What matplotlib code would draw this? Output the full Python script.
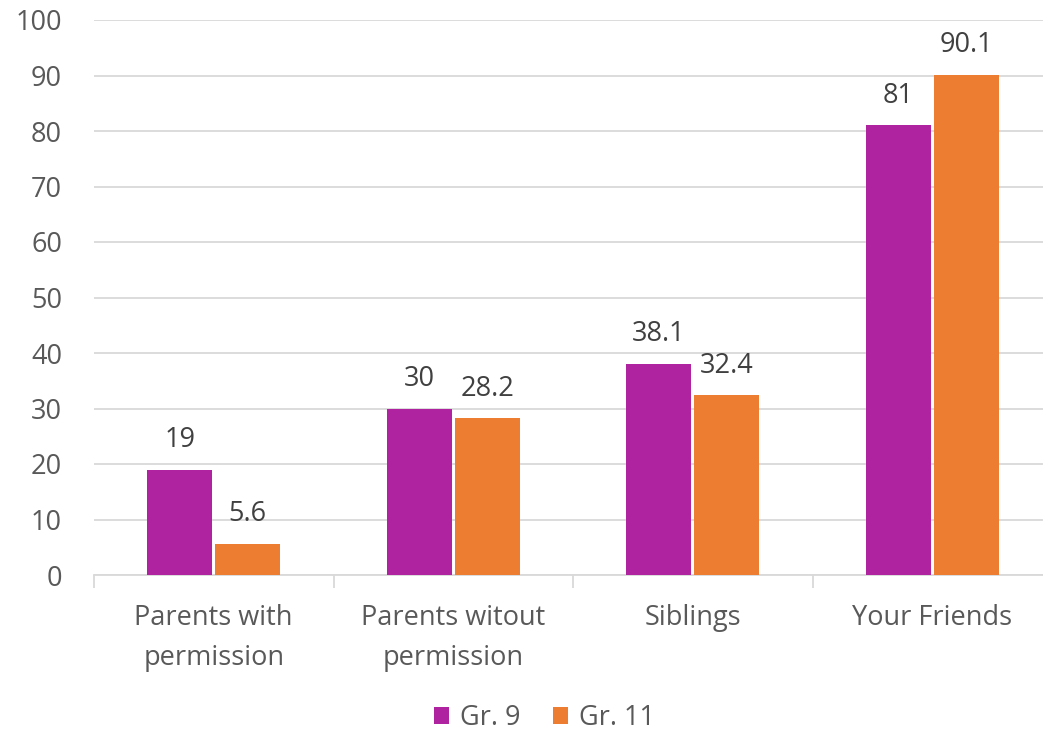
import matplotlib.pyplot as plt
import numpy as np

categories = ['Parents with\npermission', 'Parents witout\npermission', 'Siblings', 'Your Friends']
gr9 = [19, 30, 38.1, 81]
gr11 = [5.6, 28.2, 32.4, 90.1]
gr9_labels = ['19', '30', '38.1', '81']
gr11_labels = ['5.6', '28.2', '32.4', '90.1']

plt.rcParams['font.family'] = ['Open Sans', 'DejaVu Sans']

fig = plt.figure(figsize=(10.43, 7.31), dpi=100)
ax = fig.add_axes([94/1043, 1 - 575/731, 958/1043, 555/731])

x = np.arange(len(categories))
w = 0.27
off = 0.142
b1 = ax.bar(x - off, gr9, w, color='#AF22A0', label='Gr. 9', zorder=3)
b2 = ax.bar(x + off, gr11, w, color='#ED7D31', label='Gr. 11', zorder=3)

for bars, labs in ((b1, gr9_labels), (b2, gr11_labels)):
    for r, t in zip(bars, labs):
        ax.text(r.get_x() + r.get_width()/2, r.get_height() + 2.8, t,
                ha='center', va='bottom', fontsize=19.5, color='#404040')

ax.set_xlim(-0.5, 3.5)
ax.set_ylim(0, 100)
ax.set_yticks(range(0, 101, 10))
ax.yaxis.grid(True, color='#d9d9d9', linewidth=1.3, zorder=0)
ax.set_xticks(x)
ax.set_xticklabels(categories, linespacing=1.55)
ax.set_xticks(np.arange(-0.5, 4, 1), minor=True)
ax.tick_params(axis='x', which='major', length=0, pad=21, labelsize=19.5, labelcolor='#595959')
ax.tick_params(axis='x', which='minor', length=9, color='#d9d9d9', width=1.3)
ax.tick_params(axis='y', length=0, pad=23, labelsize=19.5, labelcolor='#595959')
for s in ('top', 'right', 'left'):
    ax.spines[s].set_visible(False)
ax.spines['bottom'].set_color('#d9d9d9')
ax.spines['bottom'].set_linewidth(1.3)

fig.legend(loc='center', bbox_to_anchor=(0.522, 1 - 718/731), ncol=2, frameon=False,
           fontsize=19.5, labelcolor='#595959', handlelength=0.55, handleheight=0.55,
           handletextpad=0.4, columnspacing=1.2)

plt.savefig('out.png')
